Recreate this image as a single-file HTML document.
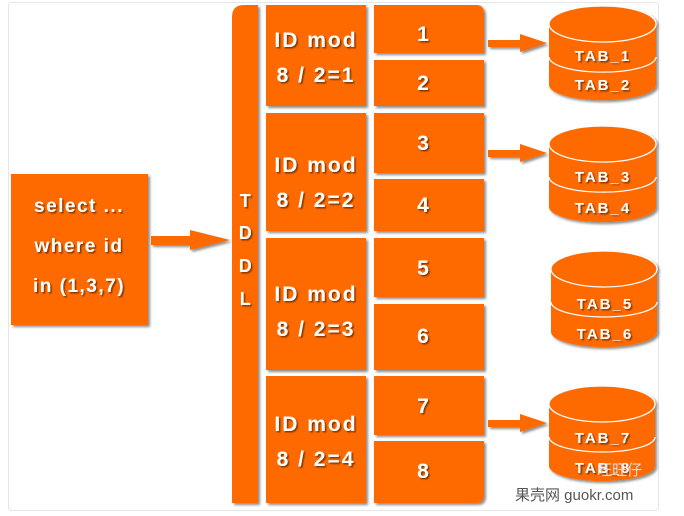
<!DOCTYPE html>
<html><head><meta charset="utf-8"><style>
html,body{margin:0;padding:0;background:#fff;width:684px;height:516px;overflow:hidden}
svg{display:block}
text{font-family:"Liberation Sans","Noto Sans CJK SC",sans-serif;font-weight:bold;fill:#fff}
</style></head><body>
<svg width="684" height="516" viewBox="0 0 684 516">
<defs>
<filter id="sh" x="-10%" y="-10%" width="130%" height="130%"><feDropShadow dx="2" dy="2" stdDeviation="1.2" flood-color="#000" flood-opacity="0.45"/></filter>
<filter id="ts"><feDropShadow dx="1.5" dy="1.5" stdDeviation="0.8" flood-color="#000" flood-opacity="0.5"/></filter>
</defs>
<rect x="8.5" y="2.5" width="650" height="508" rx="3" fill="#fff" stroke="#e6e6e6"/>
<g fill="#ff6a00" filter="url(#sh)">
<rect x="11" y="174" width="137" height="151"/>
<path d="M232 17 Q232 5 244 5 L258 5 L258 503 L232 503 Z"/>
<rect x="266" y="5" width="100" height="101"/>
<rect x="266" y="113" width="100" height="118"/>
<rect x="266" y="238" width="100" height="132"/>
<rect x="266" y="376" width="100" height="127"/>
<path d="M374 5 L476 5 Q484 5 484 13 L484 53 L374 53 Z"/>
<rect x="374" y="60" width="110" height="46"/>
<rect x="374" y="113" width="110" height="60"/>
<rect x="374" y="179" width="110" height="52"/>
<rect x="374" y="238" width="110" height="59"/>
<rect x="374" y="304" width="110" height="66"/>
<rect x="374" y="376" width="110" height="59"/>
<path d="M374 441 L484 441 L484 495 Q484 503 476 503 L374 503 Z"/>
<path d="M151 236 L190 236 L190 230 L230 240 L190 250 L190 245 L151 245 Z"/>
<path d="M488 40 L520 40 L520 34 L547 43 L520 52 L520 47 L488 47 Z"/>
<path d="M488 150 L520 150 L520 144 L547 153 L520 162 L520 157 L488 157 Z"/>
<path d="M488 420 L520 420 L520 414 L547 423 L520 432 L520 427 L488 427 Z"/>
</g>
<g stroke="#fff" stroke-width="1.2" fill="#ff6a00">
<g filter="url(#sh)"><path d="M549 24 L549 85 A53 15 0 0 0 656 85 L656 24 Z" stroke="none"/><ellipse cx="602.5" cy="24" rx="53.5" ry="18"/><path d="M549 57 A53 15 0 0 0 656 57" fill="none"/></g>
<g filter="url(#sh)"><path d="M549 144 L549 207 A53 15 0 0 0 656 207 L656 144 Z" stroke="none"/><ellipse cx="602.5" cy="144" rx="53.5" ry="18"/><path d="M549 177 A53 15 0 0 0 656 177" fill="none"/></g>
<g filter="url(#sh)"><path d="M551 269 L551 332 A53 15 0 0 0 657 332 L657 269 Z" stroke="none"/><ellipse cx="604" cy="269" rx="53" ry="18"/><path d="M551 302 A53 15 0 0 0 657 302" fill="none"/></g>
<g filter="url(#sh)"><path d="M549 404 L549 466 A53 15 0 0 0 655 466 L655 404 Z" stroke="none"/><ellipse cx="602" cy="404" rx="53" ry="18"/><path d="M549 437 A53 15 0 0 0 655 437" fill="none"/></g>
</g>
<g filter="url(#ts)" font-size="19" letter-spacing="1.5">
<text x="79" y="212" text-anchor="middle">select ...</text>
<text x="79" y="252" text-anchor="middle">where id</text>
<text x="79" y="292" text-anchor="middle">in (1,3,7)</text>
<g text-anchor="middle" font-size="18">
<text x="246" y="207">T</text><text x="246" y="239">D</text><text x="246" y="272">D</text><text x="246" y="305">L</text></g>
<g font-size="21" letter-spacing="2" text-anchor="middle">
<text x="316" y="47">ID mod</text><text x="316" y="82">8 / 2=1</text>
<text x="316" y="172">ID mod</text><text x="316" y="207">8 / 2=2</text>
<text x="316" y="301">ID mod</text><text x="316" y="336">8 / 2=3</text>
<text x="316" y="431">ID mod</text><text x="316" y="466">8 / 2=4</text>
<text x="424" y="41">1</text><text x="424" y="90">2</text>
<text x="424" y="150">3</text><text x="424" y="212">4</text>
<text x="424" y="275">5</text><text x="424" y="343">6</text>
<text x="424" y="413">7</text><text x="424" y="478">8</text>
</g>
<g font-size="15" letter-spacing="2" text-anchor="middle">
<text x="603" y="61">TAB_1</text><text x="603" y="90">TAB_2</text>
<text x="603" y="182">TAB_3</text><text x="603" y="213">TAB_4</text>
<text x="605" y="309">TAB_5</text><text x="605" y="339">TAB_6</text>
<text x="603" y="443">TAB_7</text><text x="603" y="473">TAB_8</text>
</g></g>
<text x="597" y="475" font-size="15" style="fill:#ddd;font-weight:normal">旺旺仔</text>
<text x="515" y="500" font-size="15" style="fill:#555;font-weight:normal">果壳网 guokr.com</text>
</svg>
</body></html>
